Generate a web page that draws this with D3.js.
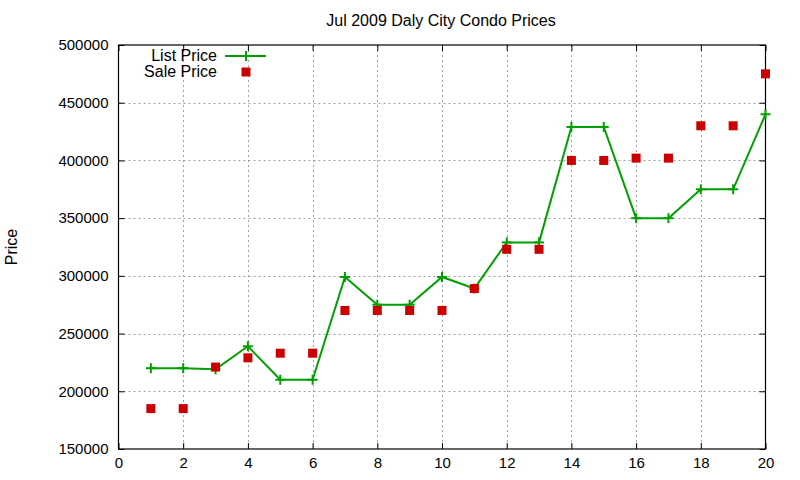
<!DOCTYPE html>
<html><head><meta charset="utf-8">
<script src="https://cdn.jsdelivr.net/npm/d3@7"></script>
<style>body{margin:0;background:#fff}svg{display:block}text{font-family:"Liberation Sans",Arial,sans-serif;fill:#000}</style>
</head><body><svg id="c" width="800" height="480"></svg>
<script>
const xValues = [1,2,3,4,5,6,7,8,9,10,11,12,13,14,15,16,17,18,19,20];
const listPrice = [220000,220000,219000,239000,210000,210000,299000,275000,275000,299000,289000,329000,329000,429000,429000,350000,350000,375000,375000,440000];
const salePrice = [185000,185000,221000,229000,233000,233000,270000,270000,270000,270000,289000,323000,323000,400000,400000,402000,402000,430000,430000,475000];
const xTicks = [0,2,4,6,8,10,12,14,16,18,20];
const yTicks = [150000,200000,250000,300000,350000,400000,450000,500000];
const title = "Jul 2009 Daly City Condo Prices";
const yLabel = "Price";
const seriesNames = ["List Price","Sale Price"];

const svg = d3.select("#c");
const L=118.5, R=765.5, T=45, B=449;
const x = d3.scaleLinear().domain([0,20]).range([L,R]);
const y = d3.scaleLinear().domain([150000,500000]).range([B,T]);
const green="#00a000", red="#cc0000";

// grid
const g = svg.append("g");
g.selectAll(".gx").data(xTicks.slice(1,-1)).join("line")
 .attr("x1",d=>Math.round(x(d))+0.5).attr("x2",d=>Math.round(x(d))+0.5).attr("y1",T).attr("y2",B)
 .attr("stroke","#a0a0a0").attr("stroke-dasharray","2,3");
g.selectAll(".gy").data(yTicks.slice(1,-1)).join("line")
 .attr("y1",d=>Math.round(y(d))+0.5).attr("y2",d=>Math.round(y(d))+0.5).attr("x1",L).attr("x2",R)
 .attr("stroke","#a0a0a0").attr("stroke-dasharray","2,3");

// axes with inward ticks
const fs="15px";
const ax = svg.append("g").attr("transform",`translate(0,${B})`)
 .call(d3.axisBottom(x).tickValues(xTicks).tickSize(-6).tickPadding(8).tickFormat(d3.format("d")));
const ay = svg.append("g").attr("transform",`translate(${L},0)`)
 .call(d3.axisLeft(y).tickValues(yTicks).tickSize(-6).tickPadding(10).tickFormat(d3.format("d")));
const axTop = svg.append("g").attr("transform",`translate(0,${T})`)
 .call(d3.axisTop(x).tickValues(xTicks).tickSize(-6).tickFormat(""));
const ayR = svg.append("g").attr("transform",`translate(${R},0)`)
 .call(d3.axisRight(y).tickValues(yTicks).tickSize(-6).tickFormat(""));
[ax,ay,axTop,ayR].forEach(a=>{a.select(".domain").remove();a.selectAll("line").attr("stroke","#000");a.selectAll("text").style("font-size",fs).attr("font-family",null);});
svg.append("rect").attr("x",L).attr("y",T).attr("width",R-L).attr("height",B-T).attr("fill","none").attr("stroke","#000").attr("stroke-width",1.2);

// title & label
svg.append("text").attr("x",441).attr("y",26).attr("text-anchor","middle").style("font-size","16px").text(title);
svg.append("text").attr("transform","translate(17,247) rotate(-90)").attr("text-anchor","middle").style("font-size","16px").text(yLabel);

// list price line
const line = d3.line().x((d,i)=>x(xValues[i])).y(d=>y(d));
svg.append("path").datum(listPrice).attr("d",line).attr("fill","none").attr("stroke",green).attr("stroke-width",2);
const plus = (sel)=>{sel.append("line").attr("x1",-5).attr("x2",5).attr("y1",0).attr("y2",0);sel.append("line").attr("y1",-5).attr("y2",5).attr("x1",0).attr("x2",0);sel.attr("stroke",green).attr("stroke-width",2);};
svg.selectAll(".lp").data(listPrice).join("g").attr("transform",(d,i)=>`translate(${x(xValues[i])},${y(d)})`).each(function(){plus(d3.select(this));});

// sale price squares
svg.selectAll(".sp").data(salePrice).join("rect")
 .attr("x",(d,i)=>x(xValues[i])-4.5).attr("y",d=>y(d)-4.5).attr("width",9).attr("height",9).attr("fill",red);

// legend
svg.append("text").attr("x",217).attr("y",61).attr("text-anchor","end").style("font-size","16px").text(seriesNames[0]);
svg.append("line").attr("x1",225).attr("x2",266).attr("y1",56).attr("y2",56).attr("stroke",green).attr("stroke-width",2);
plus(svg.append("g").attr("transform","translate(246,56)"));
svg.append("text").attr("x",217).attr("y",77).attr("text-anchor","end").style("font-size","16px").text(seriesNames[1]);
svg.append("rect").attr("x",241.5).attr("y",67.5).attr("width",9).attr("height",9).attr("fill",red);
</script></body></html>
